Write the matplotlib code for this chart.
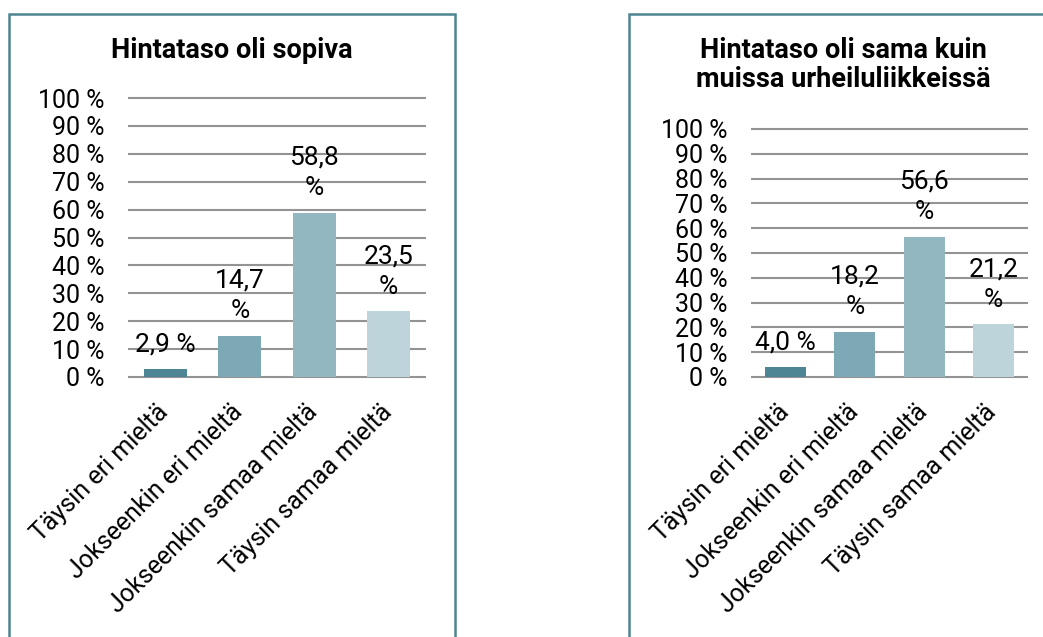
import matplotlib
matplotlib.use("Agg")
import matplotlib.pyplot as plt
import matplotlib.transforms as mtransforms
from matplotlib.patches import Rectangle

plt.rcParams["font.family"] = ["Roboto", "DejaVu Sans"]

categories = ["Täysin eri mieltä", "Jokseenkin eri mieltä",
              "Jokseenkin samaa mieltä", "Täysin samaa mieltä"]
price_ok = [2.9, 14.7, 58.8, 23.5]
price_same = [4.0, 18.2, 56.6, 21.2]
value_labels_ok = ["2,9 %", "14,7\n%", "58,8\n%", "23,5\n%"]
value_labels_same = ["4,0 %", "18,2\n%", "56,6\n%", "21,2\n%"]
yticks = list(range(0, 101, 10))

bar_colors = ["#4e8594", "#7ca9b5", "#93b7c1", "#bdd5da"]
frame_color = "#4f8493"
grid_color = "#939393"

fig = plt.figure(figsize=(10.43, 6.37), dpi=100)

# panel frames
W, H = 1043, 637
for x0, x1 in [(9, 455), (629, 1060)]:
    fig.patches.append(Rectangle((x0 / W, -0.05), (x1 - x0) / W, 1.05 - 14 / H,
                                 transform=fig.transFigure, fill=False,
                                 edgecolor=frame_color, linewidth=1.8))

# nudge rotated category labels down and left
label_shift = mtransforms.ScaledTranslation(-0.09, -0.09, fig.dpi_scale_trans)


def draw_panel(ax, values, labels, width):
    x = range(len(values))
    ax.set_xlim(-0.5, len(values) - 0.5)
    ax.set_ylim(0, 100)
    ax.hlines(yticks, -0.5, len(values) - 0.5, colors=grid_color,
              linewidth=1.5, zorder=0, clip_on=False)
    ax.bar(x, values, width=width, color=bar_colors, zorder=2)
    for xi, v, lab in zip(x, values, labels):
        ax.annotate(lab, (xi, v), xytext=(0, 9), textcoords="offset points",
                    ha="center", va="bottom", fontsize=19, linespacing=1.35,
                    zorder=3)
    for s in ax.spines.values():
        s.set_visible(False)
    ax.set_yticks(yticks)
    ax.set_yticklabels([f"{t} %" for t in yticks], fontsize=18)
    ax.set_xticks(list(x))
    ax.tick_params(length=0)
    ax.tick_params(axis="x", pad=10)
    ax.tick_params(axis="y", pad=17)
    ax.set_xticklabels(categories, rotation=45, ha="right",
                       rotation_mode="anchor", fontsize=18)
    for t in ax.get_xticklabels():
        t.set_transform(t.get_transform() + label_shift)


ax1 = fig.add_axes([128 / W, 1 - 377 / H, 298 / W, (377 - 98) / H])
draw_panel(ax1, price_ok, value_labels_ok, 0.58)
fig.text(232 / W, 1 - 50 / H, "Hintataso oli sopiva", ha="center",
         va="center", fontsize=19.5, fontweight="bold")

ax2 = fig.add_axes([751 / W, 1 - 377 / H, 277 / W, (377 - 129) / H])
draw_panel(ax2, price_same, value_labels_same, 0.59)
fig.text(843 / W, 1 - 65 / H, "Hintataso oli sama kuin\nmuissa urheiluliikkeissä",
         ha="center", va="center", fontsize=19.5, fontweight="bold",
         linespacing=1.1)

fig.savefig("out.png", dpi=100)
